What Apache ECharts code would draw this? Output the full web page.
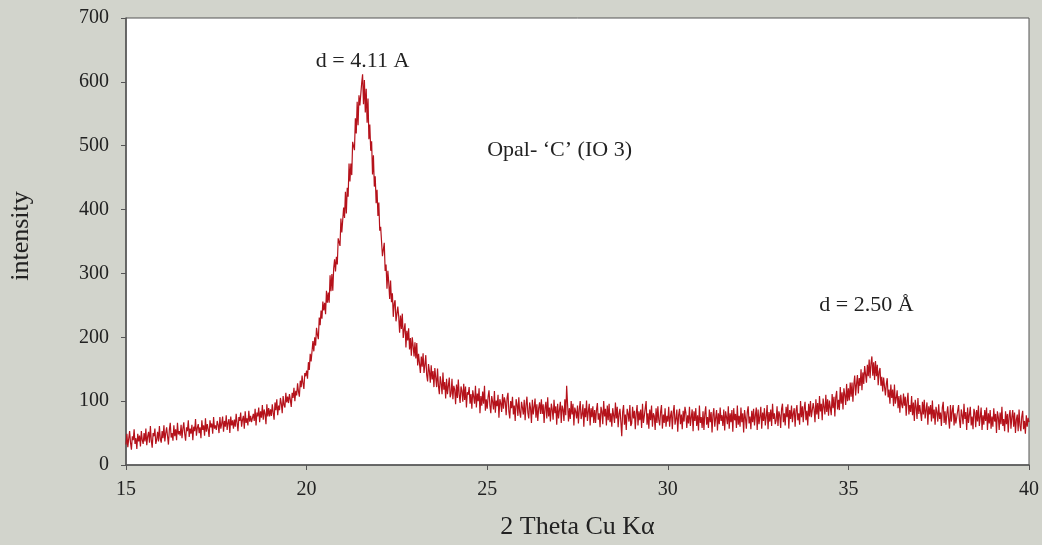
<!DOCTYPE html>
<html>
<head>
<meta charset="utf-8">
<script src="https://cdn.jsdelivr.net/npm/echarts@6/dist/echarts.min.js"></script>
<style>
html,body{margin:0;padding:0;background:#d2d4cc;}
#chart{width:1042px;height:545px;}
</style>
</head>
<body>
<div id="chart"></div>
<script>
// 2-theta sampling of the trace
const thetaStart = 15;
const thetaStep = 0.025;
// intensity, one row per half degree (20 samples each)
const intensity = [
  32,49,28,41,53,35,24,45,39,56,33,42,25,49,37,46,29,53,39,33,
  50,37,57,31,45,52,35,61,39,27,50,45,57,33,40,52,37,61,41,35,
  53,42,62,37,50,59,45,32,55,66,43,50,38,62,45,56,39,66,48,53,
  46,63,42,57,67,49,38,59,53,70,44,57,49,63,39,60,53,72,46,58,
  64,50,59,42,70,55,62,46,73,52,64,56,44,70,59,65,49,75,57,62,
  55,69,63,50,75,57,65,76,52,69,60,78,55,66,72,50,76,62,70,57,
  71,60,80,66,53,75,69,82,60,71,77,57,84,66,73,62,85,68,77,67,
  66,80,69,88,62,82,76,90,67,84,74,94,71,87,80,64,95,76,89,76,
  87,77,95,82,71,98,86,103,78,93,86,105,96,81,108,94,90,113,98,107,
  97,111,102,91,113,105,121,100,116,109,128,115,107,132,122,140,128,119,144,139,
  148,135,161,149,174,162,163,194,178,200,187,215,204,197,231,219,242,229,256,242,
  254,236,273,254,270,254,297,272,299,273,308,322,303,326,314,355,356,343,386,364,
  363,403,387,428,394,434,420,472,444,472,454,506,505,493,543,519,569,532,579,563,
  566,598,612,565,603,552,589,536,574,510,533,492,507,455,485,436,452,410,431,390,
  411,367,373,373,327,329,348,304,314,276,304,285,260,289,255,269,232,253,258,225,
  226,248,233,207,234,213,237,199,212,222,184,210,195,214,181,199,171,200,186,170,
  192,167,191,156,174,177,144,170,154,175,144,157,172,141,131,158,147,129,156,134,
  147,122,152,137,122,151,124,111,139,128,111,145,118,130,104,135,111,124,137,106,
  112,135,103,124,118,95,126,105,134,110,97,123,116,99,127,102,123,90,114,110,
  122,96,111,88,117,107,96,124,90,112,100,120,81,108,93,115,96,124,85,103,
  88,107,117,93,81,108,99,87,116,82,101,92,110,74,103,97,83,111,88,106,
  99,78,105,113,84,73,100,89,107,79,93,69,103,95,77,106,83,74,99,90,
  79,102,70,94,107,82,73,98,89,66,102,79,91,104,74,95,69,89,98,80,
  103,80,95,66,89,99,73,106,76,90,68,96,87,71,102,81,92,63,96,73,
  76,99,66,93,87,69,103,78,124,95,68,89,72,100,79,96,62,90,84,73,
  93,65,87,100,72,79,95,60,89,75,101,69,84,96,62,89,75,92,66,86,
  66,86,97,71,81,59,91,84,64,100,76,88,62,93,70,96,67,81,60,89,
  86,66,98,73,91,59,80,88,68,45,83,94,63,79,55,88,81,68,94,61,
  65,91,73,85,56,81,94,62,84,70,87,58,96,66,77,89,100,63,81,57,
  87,70,93,60,81,77,55,89,66,92,71,62,83,94,57,79,66,89,60,77,
  68,91,60,77,85,56,82,94,63,72,87,52,78,88,64,79,56,85,68,91,
  82,58,78,65,91,61,75,87,53,84,69,89,61,78,54,93,66,75,58,84,
  55,80,92,63,75,58,87,67,83,51,78,89,60,74,86,54,81,64,90,69,
  78,61,87,54,84,75,64,92,57,81,67,86,52,89,70,80,58,93,63,77,
  60,90,67,81,51,86,74,57,83,92,65,76,56,85,67,88,62,78,90,55,
  87,64,76,91,57,82,69,89,62,76,94,56,83,68,87,61,96,72,81,64,
  70,92,61,84,78,58,88,96,67,81,62,91,75,95,57,86,72,93,67,81,
  89,60,85,94,70,81,63,100,75,92,67,89,99,70,85,62,96,76,100,75,
  74,97,87,67,103,79,97,72,108,84,96,70,104,91,79,110,83,103,77,101,
  98,78,111,89,107,76,106,116,87,102,86,122,96,114,87,120,110,94,127,100,
  120,101,129,107,129,99,126,140,109,127,141,112,136,124,150,117,145,127,155,142,
  129,157,139,165,136,159,170,140,161,133,163,139,157,125,146,152,124,138,115,137,
  137,109,127,136,106,118,96,126,105,118,92,126,96,105,117,89,108,82,110,95,
  89,112,93,107,77,100,113,79,94,83,108,78,98,69,102,91,72,105,80,94,
  91,69,99,79,102,73,86,98,63,92,79,94,68,101,73,87,63,91,83,68,
  95,72,82,61,90,99,66,84,63,80,92,72,57,94,68,85,94,62,81,65,
  62,85,94,70,58,87,78,64,96,72,83,55,90,66,79,91,62,76,56,88,
  82,59,86,68,93,61,75,90,55,78,63,86,69,90,55,81,65,86,57,76,
  60,89,68,80,50,84,75,55,82,64,91,61,72,53,84,64,80,51,77,86,
  57,75,86,60,82,50,71,79,53,87,62,53,76,85,56,69,49,78,60,74,
  67
];
const xTicks = [15, 20, 25, 30, 35, 40];
const yTicks = [0, 100, 200, 300, 400, 500, 600, 700];
const annotations = [
  {text: 'd = 4.11 A', x: 21.55, y: 633, align: 'center'},
  {text: 'Opal- \u2018C\u2019 (IO 3)', x: 25.0, y: 493, align: 'left'},
  {text: 'd = 2.50 \u00C5', x: 35.5, y: 250, align: 'center'}
];

const points = intensity.map((v, i) => [+(thetaStart + i * thetaStep).toFixed(3), v]);
const FONT = '"Liberation Serif", "Times New Roman", serif';

const chart = echarts.init(document.getElementById('chart'), null, {renderer: 'canvas'});
const option = {
  animation: false,
  backgroundColor: '#d2d4cc',
  grid: {left: 126, right: 12, top: 18, bottom: 77, show: true, backgroundColor: '#ffffff', borderColor: '#555', borderWidth: 1},
  xAxis: {
    type: 'value', min: 15, max: 40, interval: 5,
    name: '2 Theta Cu K\u03B1', nameLocation: 'middle', nameGap: 49,
    nameTextStyle: {fontFamily: FONT, fontSize: 26, color: '#222'},
    axisLine: {show: true, onZero: false, lineStyle: {color: '#555', width: 1.5}},
    axisTick: {show: true, inside: false, length: 5, lineStyle: {color: '#555'}},
    axisLabel: {margin: 15, fontFamily: FONT, fontSize: 20, color: '#222',
      formatter: v => xTicks.includes(v) ? String(v) : ''},
    splitLine: {show: false}
  },
  yAxis: {
    type: 'value', min: 0, max: 700, interval: 100,
    axisLine: {show: true, lineStyle: {color: '#555', width: 1.5}},
    axisTick: {show: true, inside: false, length: 5, lineStyle: {color: '#555'}},
    axisLabel: {margin: 17, fontFamily: FONT, fontSize: 20, color: '#222',
      formatter: v => yTicks.includes(v) ? String(v) : ''},
    splitLine: {show: false}
  },
  series: [{
    type: 'line', data: points, showSymbol: false, symbol: 'none',
    lineStyle: {color: '#b5121b', width: 1.2}, z: 3
  }]
};
chart.setOption(option);

const g = annotations.map(a => {
  const p = chart.convertToPixel({gridIndex: 0}, [a.x, a.y]);
  return {type: 'text', x: p[0], y: p[1], z: 10,
    style: {text: a.text, fill: '#222', font: '22px ' + FONT, textAlign: a.align, textVerticalAlign: 'middle'}};
});
g.push({type: 'text', x: 21, y: 236, rotation: Math.PI / 2, z: 10,
  style: {text: 'intensity', fill: '#222', font: '26px ' + FONT, textAlign: 'center', textVerticalAlign: 'middle'}});
chart.setOption({graphic: g});
</script>
</body>
</html>
